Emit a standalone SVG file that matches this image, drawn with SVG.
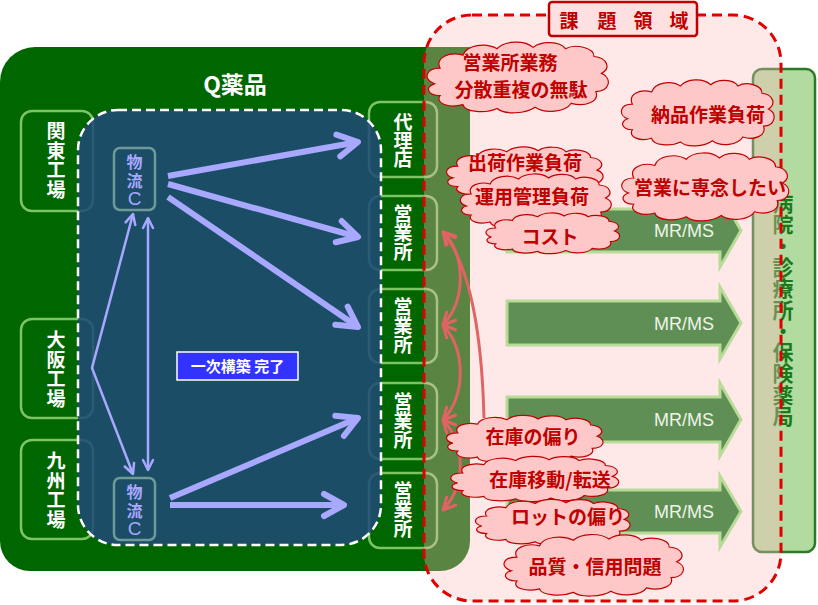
<svg xmlns="http://www.w3.org/2000/svg" xmlns:xlink="http://www.w3.org/1999/xlink" width="818" height="605" viewBox="0 0 818 605">
<defs>
<style>
text{font-family:"Noto Sans CJK JP","Noto Sans",sans-serif;font-weight:bold}
.box{fill:#006600;stroke:#7dc462;stroke-width:2.5}
.wt{fill:#fff;font-size:19px;text-anchor:middle}
.lc{fill:none;stroke:#6f9a98;stroke-width:2.5}
.lt{fill:#a8a8ff;font-size:16px;text-anchor:middle}
.thick{fill:none;stroke:#a8a8ff;stroke-width:6;marker-end:url(#ah)}
.thin{fill:none;stroke:#a8a8ff;stroke-width:2.5}
.mr{fill:#5f8f55;stroke:#b8dc98;stroke-width:3}
.mrt{fill:#eef4e8;font-family:"Liberation Sans",sans-serif;font-weight:normal;font-size:18px;text-anchor:end}
.red{fill:none;stroke:#e06464;stroke-width:3}
.ct{fill:#c00000;font-size:19px;text-anchor:middle}
</style>
<marker id="ah" markerUnits="userSpaceOnUse" viewBox="-26 -16 32 32" refX="0" refY="0" markerWidth="32" markerHeight="32" orient="auto">
<path d="M-20,-11 L0,0 L-20,11" fill="none" stroke="#a8a8ff" stroke-width="6" stroke-linecap="round" stroke-linejoin="round"/>
</marker>
<marker id="as" markerUnits="userSpaceOnUse" viewBox="-14 -9 18 18" refX="0" refY="0" markerWidth="18" markerHeight="18" orient="auto-start-reverse">
<path d="M-10,-5 L0,0 L-10,5" fill="none" stroke="#a8a8ff" stroke-width="2.5" stroke-linecap="round" stroke-linejoin="round"/>
</marker>
<marker id="ar" markerUnits="userSpaceOnUse" viewBox="-16 -10 20 20" refX="0" refY="0" markerWidth="20" markerHeight="20" orient="auto-start-reverse">
<path d="M-12,-6 L0,0 L-12,6" fill="none" stroke="#e06464" stroke-width="3" stroke-linecap="round" stroke-linejoin="round"/>
</marker>
<symbol id="cloud" viewBox="0 0 100 60" preserveAspectRatio="none">
<path d="M6,36 C0,33 1,24 9,24 C6,16 14,11 21,14 C23,6 33,4 39,9 C43,3 53,2 58,8 C62,3 72,3 75,9 C80,5 90,8 90,15 C97,16 99,24 94,28 C100,32 98,42 91,42 C93,50 85,54 78,51 C75,58 64,59 59,54 C54,59 43,60 39,55 C33,59 22,58 21,52 C14,55 6,51 9,45 C2,45 1,38 6,36 Z" fill="#ffc8c8" stroke="#c00000" stroke-width="1.2" vector-effect="non-scaling-stroke"/>
</symbol>
</defs>
<rect width="818" height="605" fill="#fff"/>

<g id="q-company">
<path d="M0,82 A35,35 0 0 1 35,47 L470,47 L470,541 A30,30 0 0 1 440,571 L30,571 A30,30 0 0 1 0,541 Z" fill="#006600"/>
<text x="235" y="93" fill="#fff" font-size="23" text-anchor="middle">Q薬品</text>
</g>

<g id="kanto">
<rect class="box" x="21" y="111" width="72" height="100" rx="11"/>
<text class="wt"><tspan x="56" y="138">関</tspan><tspan x="56" y="158">東</tspan><tspan x="56" y="177">工</tspan><tspan x="56" y="197">場</tspan></text>
</g>
<g id="osaka">
<rect class="box" x="21" y="319" width="72" height="99" rx="11"/>
<text class="wt"><tspan x="56" y="347">大</tspan><tspan x="56" y="367">阪</tspan><tspan x="56" y="386">工</tspan><tspan x="56" y="406">場</tspan></text>
</g>
<g id="kyushu">
<rect class="box" x="21" y="440" width="72" height="99" rx="11"/>
<text class="wt"><tspan x="56" y="468">九</tspan><tspan x="56" y="488">州</tspan><tspan x="56" y="507">工</tspan><tspan x="56" y="527">場</tspan></text>
</g>

<g id="dairiten">
<rect class="box" x="369" y="102" width="68" height="75" rx="11"/>
<text class="wt"><tspan x="403" y="129">代</tspan><tspan x="403" y="148">理</tspan><tspan x="403" y="166">店</tspan></text>
</g>
<g id="eigyo1">
<rect class="box" x="369" y="196" width="68" height="74" rx="11"/>
<text class="wt"><tspan x="403" y="221">営</tspan><tspan x="403" y="240">業</tspan><tspan x="403" y="259">所</tspan></text>
</g>
<g id="eigyo2">
<rect class="box" x="369" y="289" width="68" height="74" rx="11"/>
<text class="wt"><tspan x="403" y="314">営</tspan><tspan x="403" y="333">業</tspan><tspan x="403" y="352">所</tspan></text>
</g>
<g id="eigyo3">
<rect class="box" x="369" y="383" width="68" height="76" rx="11"/>
<text class="wt"><tspan x="403" y="409">営</tspan><tspan x="403" y="428">業</tspan><tspan x="403" y="447">所</tspan></text>
</g>
<g id="eigyo4">
<rect class="box" x="369" y="473" width="68" height="75" rx="11"/>
<text class="wt"><tspan x="403" y="498">営</tspan><tspan x="403" y="517">業</tspan><tspan x="403" y="536">所</tspan></text>
</g>

<g id="hospital">
<rect x="753" y="69" width="62" height="483" rx="9" fill="#b2dba0" stroke="#2a7a2a" stroke-width="2.5"/>
<text fill="#1a7a1a" font-size="21" text-anchor="middle"><tspan x="783" y="211">病</tspan><tspan x="783" y="232">院</tspan><tspan x="783" y="254">・</tspan><tspan x="783" y="275">診</tspan><tspan x="783" y="296">療</tspan><tspan x="783" y="318">所</tspan><tspan x="783" y="339">・</tspan><tspan x="783" y="360">保</tspan><tspan x="783" y="381">険</tspan><tspan x="783" y="403">薬</tspan><tspan x="783" y="424">局</tspan></text>
</g>

<g id="primary-area">
<rect x="78" y="110" width="303" height="435" rx="40" fill="#1f4978" fill-opacity="0.86" stroke="#fff" stroke-width="2.5" stroke-dasharray="9 5"/>
</g>

<g id="butsuryu-top">
<rect class="lc" x="114" y="148" width="41" height="62" rx="6"/>
<text class="lt"><tspan x="134.5" y="168">物</tspan><tspan x="134.5" y="187">流</tspan><tspan x="134.5" y="205" font-family="Liberation Sans,sans-serif" font-weight="normal" font-size="19">C</tspan></text>
</g>
<g id="butsuryu-bottom">
<rect class="lc" x="114" y="478" width="41" height="62" rx="6"/>
<text class="lt"><tspan x="134.5" y="498">物</tspan><tspan x="134.5" y="517">流</tspan><tspan x="134.5" y="535" font-family="Liberation Sans,sans-serif" font-weight="normal" font-size="19">C</tspan></text>
</g>

<g id="status-label">
<rect x="177" y="352" width="121" height="28" fill="#3333ff" stroke="#fff" stroke-width="1.5"/>
<text x="237.5" y="372" fill="#fff" font-size="15" text-anchor="middle">一次構築 完了</text>
</g>

<g id="issue-area">
<rect x="424" y="15" width="357" height="586" rx="48" fill="#ffbebe" fill-opacity="0.35" stroke="#e00000" stroke-width="3" stroke-dasharray="10 6"/>
</g>

<g id="connectors">
<line class="thick" x1="168" y1="176" x2="358" y2="142"/>
<line class="thick" x1="168" y1="184" x2="358" y2="237"/>
<line class="thick" x1="168" y1="197" x2="358" y2="327"/>
<line class="thick" x1="170" y1="498" x2="358" y2="418"/>
<line class="thick" x1="170" y1="505" x2="344" y2="505"/>
<polyline class="thin" points="133,214 92,368 133,474" marker-start="url(#as)" marker-end="url(#as)"/>
<line class="thin" x1="148" y1="218" x2="148" y2="470" marker-start="url(#as)" marker-end="url(#as)"/>
<path class="red" d="M484,418 C482,340 472,268 443,232" marker-end="url(#ar)"/>
<path class="red" d="M443,232 C466,255 466,300 443,325" marker-start="url(#ar)" marker-end="url(#ar)"/>
<path class="red" d="M443,325 C466,350 466,395 443,420" marker-start="url(#ar)" marker-end="url(#ar)"/>
<path class="red" d="M443,420 C466,445 466,485 443,510" marker-start="url(#ar)" marker-end="url(#ar)"/>
</g>

<g id="mrms1">
<polygon class="mr" points="507,209 720,209 720,194 741,230.5 720,267 720,252 507,252"/>
<text class="mrt" x="714" y="237">MR/MS</text>
</g>
<g id="mrms2">
<polygon class="mr" points="507,301 720,301 720,287 741,323 720,359 720,345 507,345"/>
<text class="mrt" x="714" y="330">MR/MS</text>
</g>
<g id="mrms3">
<polygon class="mr" points="507,397 720,397 720,383 741,419.5 720,456 720,442 507,442"/>
<text class="mrt" x="714" y="426">MR/MS</text>
</g>
<g id="mrms4">
<polygon class="mr" points="507,490 720,490 720,476 741,511.5 720,547 720,533 507,533"/>
<text class="mrt" x="714" y="518">MR/MS</text>
</g>

<g id="c-bunsan"><use xlink:href="#cloud" href="#cloud" x="423" y="37" width="190" height="78"/><text class="ct" x="510" y="70">営業所業務</text><text class="ct" x="521" y="97">分散重複の無駄</text></g>
<g id="c-nohin"><use xlink:href="#cloud" href="#cloud" x="618" y="75" width="160" height="73"/><text class="ct" x="708" y="122">納品作業負荷</text></g>
<g id="c-shukka"><use xlink:href="#cloud" href="#cloud" x="443" y="143" width="164" height="58"/><text class="ct" x="525" y="170">出荷作業負荷</text></g>
<g id="c-unyo"><use xlink:href="#cloud" href="#cloud" x="457" y="170" width="158" height="60"/><text class="ct" x="532" y="204">運用管理負荷</text></g>
<g id="c-cost"><use xlink:href="#cloud" href="#cloud" x="483" y="210" width="140" height="45"/><text class="ct" x="550" y="244">コスト</text></g>
<g id="c-eigyo"><use xlink:href="#cloud" href="#cloud" x="618" y="148" width="175" height="75"/><text class="ct" x="710" y="195">営業に専念したい</text></g>
<g id="c-zaiko"><use xlink:href="#cloud" href="#cloud" x="443" y="412" width="164" height="52"/><text class="ct" x="533" y="444">在庫の偏り</text></g>
<g id="c-ido"><use xlink:href="#cloud" href="#cloud" x="447" y="453" width="176" height="50"/><text class="ct" x="550" y="487">在庫移動/転送</text></g>
<g id="c-lot"><use xlink:href="#cloud" href="#cloud" x="472" y="496" width="162" height="50"/><text class="ct" x="568" y="524">ロットの偏り</text></g>
<g id="c-hinshitsu"><use xlink:href="#cloud" href="#cloud" x="500" y="530" width="188" height="68"/><text class="ct" x="595" y="574">品質・信用問題</text></g>

<g id="issue-title">
<rect x="549" y="2" width="148" height="34" rx="3" fill="#ffe0e0" stroke="#c00000" stroke-width="2.5"/>
<text x="569 588 607 625 643 661 679" y="28" fill="#c00000" font-size="19" text-anchor="middle">課 題 領 域</text>
</g>
</svg>
